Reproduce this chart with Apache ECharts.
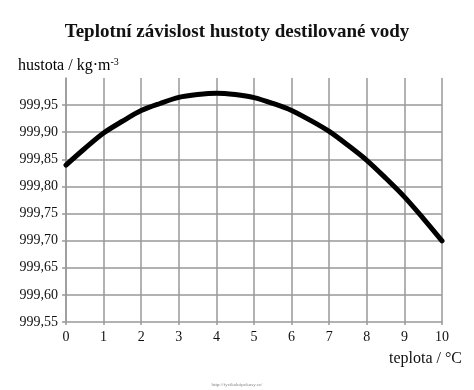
<!DOCTYPE html>
<html><head><meta charset="utf-8">
<script src="https://cdn.jsdelivr.net/npm/echarts@6/dist/echarts.min.js"></script>
<style>html,body{margin:0;padding:0;background:#fff}#c{width:474px;height:390px}</style>
</head><body><div id="c"></div>
<script>
const temps = [0,0.5,1,1.5,2,2.5,3,3.5,4,4.5,5,5.5,6,6.5,7,7.5,8,8.5,9,9.5,10];
const density = [999.8395,999.8700,999.8985,999.9202,999.9399,999.9530,999.9642,999.9695,999.9720,999.9694,999.9638,999.9531,999.9402,999.9219,999.9015,999.8759,999.8482,999.8155,999.7808,999.7412,999.6996];
const hLines = [999.60,999.65,999.70,999.75,999.80,999.85,999.90,999.95];
const FONT = '"Liberation Serif", "DejaVu Serif", serif';
const chart = echarts.init(document.getElementById('c'));
chart.setOption({
  animation:false,
  backgroundColor:'#fff',
  title:{text:'Teplotní závislost hustoty destilované vody',left:'center',top:18,
    textStyle:{fontFamily:FONT,fontSize:19,fontWeight:'bold',color:'#111'}},
  graphic:[
    {type:'text',left:18,top:57,style:{text:'{a|hustota / kg·m}{s|-3}',
      rich:{a:{fontFamily:FONT,fontSize:16,color:'#111'},s:{fontFamily:FONT,fontSize:10,color:'#111',verticalAlign:'top',padding:[0,0,8,0]}}}},
    {type:'text',right:12,top:351,style:{text:'teplota / °C',fontFamily:FONT,fontSize:16,fill:'#111'}},
    {type:'text',left:'center',top:382,style:{text:'http://fyzikalnipokusy.cz/',fontFamily:FONT,fontSize:5,fill:'#888'}}
  ],
  grid:{left:66,right:32,top:78,bottom:68},
  xAxis:{type:'value',min:0,max:10,interval:1,
    axisLine:{lineStyle:{color:'#999',width:1.5}},
    axisTick:{show:true,length:3,lineStyle:{color:'#999',width:1.5}},
    axisLabel:{fontFamily:FONT,fontSize:14,color:'#111',margin:8},
    splitLine:{show:true,lineStyle:{color:'#999',width:1.5}}},
  yAxis:{type:'value',min:999.55,max:1000,interval:0.05,
    axisLine:{show:true,lineStyle:{color:'#999',width:1.5}},
    axisTick:{show:true,length:4,lineStyle:{color:'#999',width:1.5}},
    axisLabel:{fontFamily:FONT,fontSize:14,color:'#111',margin:8,showMaxLabel:false,
      formatter:v=>v.toFixed(2).replace('.',',')},
    splitLine:{show:false}},
  series:[{type:'line',data:temps.map((t,i)=>[t,density[i]]),smooth:0.3,showSymbol:false,
    lineStyle:{color:'#000',width:5,cap:'round',join:'round'},
    markLine:{silent:true,symbol:'none',label:{show:false},
      lineStyle:{color:'#999',width:1.5,type:'solid'},
      data:hLines.map(v=>({yAxis:v}))},
    z:5}]
});
</script></body></html>
